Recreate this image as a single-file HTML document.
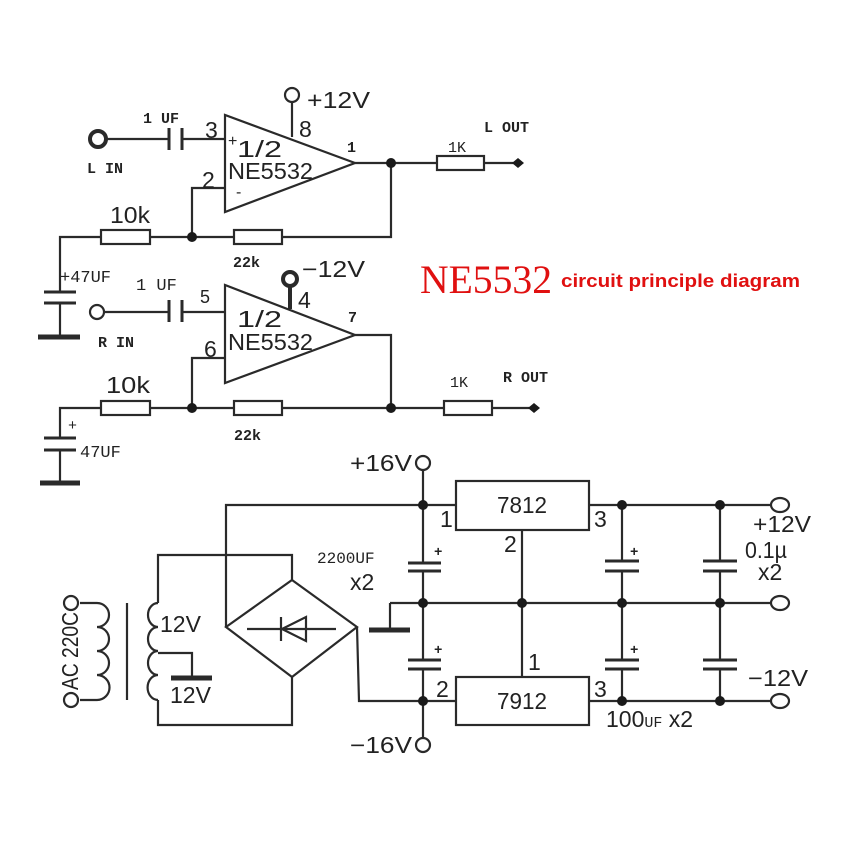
<!DOCTYPE html>
<html><head><meta charset="utf-8"><style>
html,body{margin:0;padding:0;background:#fff;}
svg{display:block;}
.n{font-family:"Liberation Sans",sans-serif;font-size:23px;fill:#222;}
.m{font-family:"Liberation Mono",monospace;font-weight:bold;font-size:15px;fill:#222;}
</style></head><body>
<svg width="850" height="850" viewBox="0 0 850 850" xmlns="http://www.w3.org/2000/svg">
<rect width="850" height="850" fill="#fff"/>
<g stroke="#2a2a2a" stroke-width="2.2" fill="none">
<polygon points="225,115 225,212 355,163"/>
<circle cx="98" cy="139" r="8" stroke-width="4"/>
<line x1="106" y1="139" x2="169" y2="139"/>
<line x1="169" y1="128" x2="169" y2="150" stroke-width="3"/>
<line x1="182" y1="128" x2="182" y2="150" stroke-width="3"/>
<line x1="182" y1="139" x2="225" y2="139"/>
<line x1="292" y1="137" x2="292" y2="102"/>
<circle cx="292" cy="95" r="7"/>
<polyline points="355,163 437,163"/>
<rect x="437" y="156" width="47" height="14"/>
<line x1="484" y1="163" x2="518" y2="163"/>
<polyline points="391,163 391,237 282,237"/>
<rect x="234" y="230" width="48" height="14"/>
<line x1="234" y1="237" x2="150" y2="237"/>
<polyline points="192,237 192,188 225,188"/>
<rect x="101" y="230" width="49" height="14"/>
<polyline points="101,237 60,237 60,292"/>
<line x1="44" y1="292" x2="76" y2="292" stroke-width="3"/>
<line x1="44" y1="303" x2="76" y2="303" stroke-width="3"/>
<line x1="60" y1="303" x2="60" y2="337"/>
<line x1="38" y1="337" x2="80" y2="337" stroke-width="5"/>
<polygon points="225,285 225,383 355,335"/>
<circle cx="97" cy="312" r="7"/>
<line x1="104" y1="312" x2="169" y2="312"/>
<line x1="169" y1="300" x2="169" y2="322" stroke-width="3"/>
<line x1="182" y1="300" x2="182" y2="322" stroke-width="3"/>
<line x1="182" y1="312" x2="225" y2="312"/>
<circle cx="290" cy="279" r="7" stroke-width="4"/>
<line x1="290" y1="286" x2="290" y2="309" stroke-width="4"/>
<polyline points="355,335 391,335 391,408 282,408"/>
<line x1="391" y1="408" x2="444" y2="408"/>
<rect x="444" y="401" width="48" height="14"/>
<line x1="492" y1="408" x2="530" y2="408"/>
<rect x="234" y="401" width="48" height="14"/>
<line x1="234" y1="408" x2="150" y2="408"/>
<polyline points="192,408 192,358 225,358"/>
<rect x="101" y="401" width="49" height="14"/>
<polyline points="101,408 60,408 60,438"/>
<line x1="44" y1="438" x2="76" y2="438" stroke-width="3"/>
<line x1="44" y1="450" x2="76" y2="450" stroke-width="3"/>
<line x1="60" y1="450" x2="60" y2="483"/>
<line x1="40" y1="483" x2="80" y2="483" stroke-width="5"/>
<circle cx="423" cy="463" r="7"/>
<line x1="423" y1="470" x2="423" y2="563"/>
<line x1="423" y1="571" x2="423" y2="660"/>
<line x1="423" y1="669" x2="423" y2="738"/>
<circle cx="423" cy="745" r="7"/>
<line x1="408" y1="563" x2="441" y2="563" stroke-width="3"/>
<line x1="408" y1="571" x2="441" y2="571" stroke-width="3"/>
<line x1="408" y1="660" x2="441" y2="660" stroke-width="3"/>
<line x1="408" y1="669" x2="441" y2="669" stroke-width="3"/>
<polyline points="226,627 226,505 456,505"/>
<rect x="456" y="481" width="133" height="49"/>
<rect x="456" y="677" width="133" height="48"/>
<line x1="522" y1="530" x2="522" y2="677"/>
<line x1="589" y1="505" x2="770" y2="505"/>
<ellipse cx="780" cy="505" rx="9" ry="7"/>
<line x1="390" y1="603" x2="770" y2="603"/>
<ellipse cx="780" cy="603" rx="9" ry="7"/>
<line x1="589" y1="701" x2="770" y2="701"/>
<ellipse cx="780" cy="701" rx="9" ry="7"/>
<polyline points="357,627 359,701 456,701"/>
<line x1="390" y1="603" x2="390" y2="630"/>
<line x1="369" y1="630" x2="410" y2="630" stroke-width="5"/>
<line x1="622" y1="505" x2="622" y2="561"/><line x1="622" y1="571" x2="622" y2="660"/><line x1="622" y1="669" x2="622" y2="701"/>
<line x1="720" y1="505" x2="720" y2="561"/><line x1="720" y1="571" x2="720" y2="660"/><line x1="720" y1="669" x2="720" y2="701"/>
<g stroke-width="3">
<line x1="605" y1="561" x2="639" y2="561"/><line x1="605" y1="571" x2="639" y2="571"/>
<line x1="605" y1="660" x2="639" y2="660"/><line x1="605" y1="669" x2="639" y2="669"/>
<line x1="703" y1="561" x2="737" y2="561"/><line x1="703" y1="571" x2="737" y2="571"/>
<line x1="703" y1="660" x2="737" y2="660"/><line x1="703" y1="669" x2="737" y2="669"/>
</g>
<polygon points="292,580 357,627 292,677 226,627"/>
<polyline points="292,580 292,555 158,555 158,603"/>
<polyline points="292,677 292,725 158,725 158,700"/>
<line x1="247" y1="629" x2="336" y2="629"/>
<polygon points="282,629 306,617 306,641"/>
<line x1="281" y1="617" x2="281" y2="641"/>
<path d="M158,603 a10,12 0 0 0 0,24 a10,12 0 0 0 0,24 a10,12 0 0 0 0,24 a10,12 0 0 0 0,25"/>
<polyline points="158,653 192,653 192,677"/>
<line x1="171" y1="678" x2="212" y2="678" stroke-width="5"/>
<line x1="127" y1="603" x2="127" y2="700"/>
<path d="M80,603 L97,603 a12,12 0 0 1 0,24 a12,12 0 0 1 0,24 a12,12 0 0 1 0,24 a12,12 0 0 1 0,25 L80,700"/>
<circle cx="71" cy="603" r="7"/>
<circle cx="71" cy="700" r="7"/>
</g>
<g fill="#1a1a1a">
<circle cx="391" cy="163" r="5"/><circle cx="192" cy="237" r="5"/>
<circle cx="391" cy="408" r="5"/><circle cx="192" cy="408" r="5"/>
<polygon points="518,158 524,163 518,168 512,163"/>
<polygon points="534,403 540,408 534,413 528,408"/>
<circle cx="423" cy="505" r="5"/><circle cx="423" cy="603" r="5"/><circle cx="423" cy="701" r="5"/>
<circle cx="522" cy="603" r="5"/>
<circle cx="622" cy="505" r="5"/><circle cx="622" cy="603" r="5"/><circle cx="622" cy="701" r="5"/>
<circle cx="720" cy="505" r="5"/><circle cx="720" cy="603" r="5"/><circle cx="720" cy="701" r="5"/>
</g>
<g lengthAdjust="spacingAndGlyphs">
<text class="m" x="143" y="123">1 UF</text>
<text class="n" x="205" y="138">3</text>
<text class="n" x="228" y="146" style="font-size:16px">+</text>
<text class="n" x="237" y="157" textLength="45" lengthAdjust="spacingAndGlyphs">1/2</text>
<text class="n" x="228" y="179" textLength="85" lengthAdjust="spacingAndGlyphs">NE5532</text>
<text class="n" x="299" y="137">8</text>
<text class="n" x="307" y="108" textLength="63" lengthAdjust="spacingAndGlyphs">+12V</text>
<text class="m" x="347" y="152">1</text>
<text class="m" x="87" y="173">L IN</text>
<text class="n" x="202" y="188">2</text>
<text class="n" x="236" y="197" style="font-size:16px">-</text>
<text class="m" x="484" y="132">L OUT</text>
<text class="m" x="448" y="152" style="font-weight:normal">1K</text>
<text class="n" x="110" y="223" textLength="40" lengthAdjust="spacingAndGlyphs">10k</text>
<text class="m" x="233" y="267">22k</text>
<text class="m" x="60" y="282" style="font-weight:normal;font-size:17px">+47UF</text>
<text class="m" x="136" y="290" style="font-weight:normal;font-size:17px">1 UF</text>
<text class="n" x="302" y="277" textLength="63" lengthAdjust="spacingAndGlyphs">−12V</text>
<text class="n" x="298" y="308">4</text>
<text class="n" x="200" y="303" style="font-size:18px">5</text>
<text class="n" x="237" y="327" textLength="45" lengthAdjust="spacingAndGlyphs">1/2</text>
<text class="n" x="228" y="350" textLength="85" lengthAdjust="spacingAndGlyphs">NE5532</text>
<text class="n" x="204" y="357">6</text>
<text class="m" x="348" y="322">7</text>
<text class="m" x="98" y="347">R IN</text>
<text class="m" x="503" y="382">R OUT</text>
<text class="m" x="450" y="387" style="font-weight:normal">1K</text>
<text class="n" x="106" y="393" textLength="44" lengthAdjust="spacingAndGlyphs">10k</text>
<text class="m" x="234" y="440">22k</text>
<text class="m" x="68" y="430" style="font-weight:normal">+</text>
<text class="m" x="80" y="457" style="font-weight:normal;font-size:17px">47UF</text>
<text x="420" y="293" style="font-family:'Liberation Serif',serif;font-size:40px;fill:#e01010" textLength="132" lengthAdjust="spacingAndGlyphs">NE5532</text>
<text x="561" y="287" style="font-family:'Liberation Sans',sans-serif;font-weight:bold;font-size:18px;fill:#e01010" textLength="239" lengthAdjust="spacingAndGlyphs">circuit principle diagram</text>
<text class="n" x="350" y="471" textLength="62" lengthAdjust="spacingAndGlyphs">+16V</text>
<text class="n" x="350" y="753" textLength="62" lengthAdjust="spacingAndGlyphs">−16V</text>
<text class="n" x="497" y="513" textLength="50" lengthAdjust="spacingAndGlyphs">7812</text>
<text class="n" x="497" y="709" textLength="50" lengthAdjust="spacingAndGlyphs">7912</text>
<text class="n" x="440" y="527">1</text>
<text class="n" x="594" y="527">3</text>
<text class="n" x="504" y="552">2</text>
<text class="n" x="528" y="670">1</text>
<text class="n" x="436" y="697">2</text>
<text class="n" x="594" y="697">3</text>
<text class="m" x="317" y="563" style="font-weight:normal;font-size:16px">2200UF</text>
<text class="n" x="350" y="590">x2</text>
<text class="m" x="434" y="556" style="font-size:14px">+</text>
<text class="m" x="434" y="654" style="font-size:14px">+</text>
<text class="m" x="630" y="556" style="font-size:14px">+</text>
<text class="m" x="630" y="654" style="font-size:14px">+</text>
<text class="n" x="753" y="532" textLength="58" lengthAdjust="spacingAndGlyphs">+12V</text>
<text class="n" x="745" y="558" textLength="42" lengthAdjust="spacingAndGlyphs">0.1µ</text>
<text class="n" x="758" y="580">x2</text>
<text class="n" x="748" y="686" textLength="60" lengthAdjust="spacingAndGlyphs">−12V</text>
<text class="n" x="606" y="727">100<tspan style="font-family:'Liberation Mono',monospace;font-size:15px">UF</tspan> x2</text>
<text class="n" x="160" y="632">12V</text>
<text class="n" x="170" y="703">12V</text>
<text class="n" transform="translate(78,690) rotate(-90)" textLength="78" lengthAdjust="spacingAndGlyphs">AC 220C</text>
</g>
</svg>
</body></html>
